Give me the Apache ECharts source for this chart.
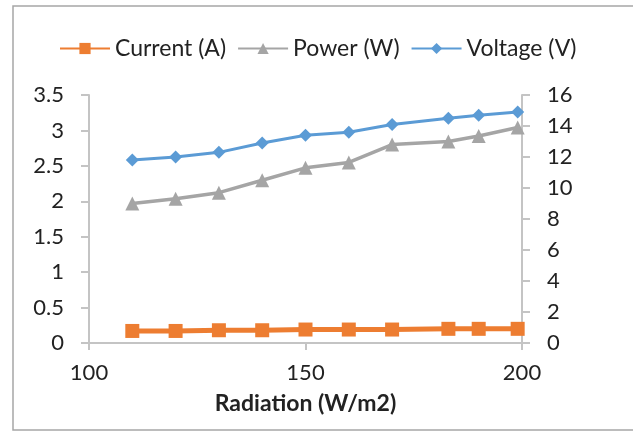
<!DOCTYPE html>
<html>
<head>
<meta charset="utf-8">
<script src="https://cdn.jsdelivr.net/npm/echarts@6/dist/echarts.min.js"></script>
<style>
  html, body { margin: 0; padding: 0; background: #fff; }
  #chart { width: 633px; height: 432px; }
</style>
</head>
<body>
<div id="chart"></div>
<script>
// radiation (W/m2) on the x axis
const radiation = [110, 120, 130, 140, 150, 160, 170, 183, 190, 199]
// left axis
const current = [0.17, 0.17, 0.18, 0.18, 0.19, 0.19, 0.19, 0.2, 0.2, 0.2]
// right axis
const power = [9.0, 9.3, 9.7, 10.5, 11.3, 11.65, 12.8, 13.0, 13.35, 13.9]
const voltage = [11.8, 12.0, 12.3, 12.9, 13.4, 13.6, 14.1, 14.5, 14.7, 14.9]

const font = 'Lato, "Open Sans", sans-serif'
const axisGray = '#c4c4c4'

const chart = echarts.init(document.getElementById('chart'))

const pair = (xs, ys) => xs.map((x, i) => [x, ys[i]])

chart.setOption({
  animation: false,
  textStyle: { fontFamily: font, color: '#222' },
  graphic: [{
    type: 'rect',
    shape: { x: 13, y: 6, width: 640, height: 424 },
    style: { fill: 'none', stroke: '#a6a6a6', lineWidth: 1.5 },
    silent: true,
  }],
  legend: {
    top: 32,
    left: 54,
    itemWidth: 50,
    itemHeight: 14,
    itemGap: 11,
    textStyle: { fontSize: 23, fontFamily: font, color: '#222' },
    data: ['Current (A)', 'Power (W)', 'Voltage (V)'],
  },
  grid: { left: 89, right: 111, top: 95, bottom: 89 },
  xAxis: {
    type: 'value',
    min: 100,
    max: 200,
    interval: 50,
    name: 'Radiation (W/m2)',
    nameLocation: 'middle',
    nameGap: 49,
    nameTextStyle: { fontSize: 23, fontWeight: 'bold', fontFamily: font, color: '#222' },
    axisLine: { onZero: false, lineStyle: { color: axisGray, width: 2 } },
    axisTick: { show: true, inside: false, length: 7, lineStyle: { color: axisGray, width: 2 } },
    axisLabel: { fontSize: 22, margin: 19, color: '#222' },
    splitLine: { show: false },
  },
  yAxis: [
    {
      type: 'value',
      min: 0,
      max: 3.5,
      interval: 0.5,
      position: 'left',
      axisLine: { show: true, lineStyle: { color: axisGray, width: 2 } },
      axisTick: { show: true, length: 8, lineStyle: { color: axisGray, width: 2 } },
      axisLabel: { fontSize: 22, margin: 25, color: '#222' },
      splitLine: { show: false },
    },
    {
      type: 'value',
      min: 0,
      max: 16,
      interval: 2,
      position: 'right',
      axisLine: { show: true, lineStyle: { color: axisGray, width: 2 } },
      axisTick: { show: true, length: 8, lineStyle: { color: axisGray, width: 2 } },
      axisLabel: { fontSize: 22, margin: 25, color: '#222' },
      splitLine: { show: false },
    },
  ],
  series: [
    {
      name: 'Current (A)',
      type: 'line',
      yAxisIndex: 0,
      data: pair(radiation, current),
      symbol: 'rect',
      symbolSize: 14,
      lineStyle: { width: 5, color: '#ED7D31' },
      itemStyle: { color: '#ED7D31' },
    },
    {
      name: 'Power (W)',
      type: 'line',
      yAxisIndex: 1,
      data: pair(radiation, power),
      symbol: 'triangle',
      symbolSize: 14,
      lineStyle: { width: 3.5, color: '#A5A5A5' },
      itemStyle: { color: '#A5A5A5' },
    },
    {
      name: 'Voltage (V)',
      type: 'line',
      yAxisIndex: 1,
      data: pair(radiation, voltage),
      symbol: 'diamond',
      symbolSize: 13,
      lineStyle: { width: 3, color: '#5B9BD5' },
      itemStyle: { color: '#5B9BD5' },
    },
  ],
})

window.addEventListener('resize', () => chart.resize())
</script>
</body>
</html>
